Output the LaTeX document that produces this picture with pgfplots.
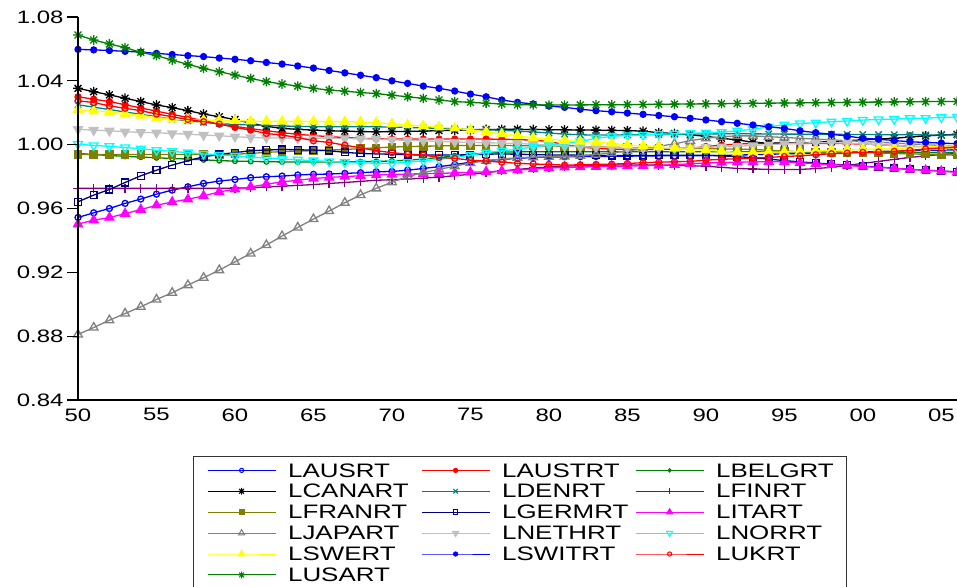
\documentclass[border=0pt]{standalone}
\usepackage{fontspec}
\setmainfont{Liberation Sans}[FakeStretch=1.33]
\usepackage{pgfplots}
\usepackage{pgfplotstable}
\pgfplotsset{compat=1.18}

\pgfdeclareplotmark{ast8}{%
  \pgfpathmoveto{\pgfqpoint{-\pgfplotmarksize}{0pt}}%
  \pgfpathlineto{\pgfqpoint{\pgfplotmarksize}{0pt}}%
  \pgfpathmoveto{\pgfqpoint{0pt}{-\pgfplotmarksize}}%
  \pgfpathlineto{\pgfqpoint{0pt}{\pgfplotmarksize}}%
  \pgfpathmoveto{\pgfqpoint{-0.707\pgfplotmarksize}{-0.707\pgfplotmarksize}}%
  \pgfpathlineto{\pgfqpoint{0.707\pgfplotmarksize}{0.707\pgfplotmarksize}}%
  \pgfpathmoveto{\pgfqpoint{-0.707\pgfplotmarksize}{0.707\pgfplotmarksize}}%
  \pgfpathlineto{\pgfqpoint{0.707\pgfplotmarksize}{-0.707\pgfplotmarksize}}%
  \pgfusepathqstroke}

\definecolor{eblue}{RGB}{0,0,255}
\definecolor{ered}{RGB}{255,0,0}
\definecolor{egreen}{RGB}{0,128,0}
\definecolor{eteal}{RGB}{0,128,128}
\definecolor{epurple}{RGB}{128,0,128}
\definecolor{eolive}{RGB}{128,128,0}
\definecolor{enavy}{RGB}{0,0,128}
\definecolor{emagenta}{RGB}{255,0,255}
\definecolor{egray}{RGB}{128,128,128}
\definecolor{esilver}{RGB}{192,192,192}
\definecolor{ecyan}{RGB}{0,255,255}
\definecolor{eyellow}{RGB}{255,255,0}

\pgfplotstableread{
year AUS AUST BELG CANA DEN FIN FRAN GERM ITA JAP NETH NOR SWE SWI UK USA
1950 0.9544 1.0300 0.9945 1.0353 1.0250 0.9726 0.9939 0.9642 0.9502 0.8811 1.0096 1.0004 1.0220 1.0597 1.0275 1.0687
1951 0.9573 1.0285 0.9938 1.0332 1.0235 0.9726 0.9939 0.9684 0.9527 0.8854 1.0091 0.9995 1.0210 1.0594 1.0264 1.0656
1952 0.9600 1.0270 0.9932 1.0312 1.0220 0.9726 0.9939 0.9719 0.9543 0.8900 1.0087 0.9990 1.0205 1.0590 1.0243 1.0631
1953 0.9632 1.0250 0.9927 1.0291 1.0205 0.9726 0.9939 0.9763 0.9568 0.8942 1.0081 0.9982 1.0195 1.0585 1.0228 1.0608
1954 0.9659 1.0230 0.9922 1.0270 1.0190 0.9726 0.9939 0.9805 0.9593 0.8984 1.0077 0.9975 1.0184 1.0580 1.0213 1.0579
1955 0.9690 1.0210 0.9918 1.0249 1.0175 0.9726 0.9939 0.9840 0.9620 0.9030 1.0075 0.9965 1.0170 1.0572 1.0192 1.0558
1956 0.9715 1.0190 0.9913 1.0232 1.0160 0.9726 0.9939 0.9872 0.9641 0.9072 1.0070 0.9958 1.0160 1.0565 1.0175 1.0530
1957 0.9736 1.0170 0.9910 1.0213 1.0150 0.9726 0.9939 0.9899 0.9658 0.9120 1.0066 0.9950 1.0157 1.0558 1.0158 1.0503
1958 0.9757 1.0150 0.9905 1.0192 1.0140 0.9726 0.9939 0.9924 0.9679 0.9166 1.0060 0.9942 1.0153 1.0552 1.0144 1.0478
1959 0.9772 1.0130 0.9900 1.0175 1.0132 0.9726 0.9939 0.9939 0.9704 0.9214 1.0056 0.9935 1.0153 1.0543 1.0129 1.0457
1960 0.9782 1.0115 0.9897 1.0158 1.0127 0.9728 0.9940 0.9950 0.9721 0.9266 1.0050 0.9930 1.0150 1.0535 1.0108 1.0436
1961 0.9793 1.0100 0.9895 1.0135 1.0123 0.9730 0.9945 0.9962 0.9735 0.9318 1.0045 0.9922 1.0148 1.0526 1.0091 1.0415
1962 0.9799 1.0088 0.9893 1.0115 1.0120 0.9735 0.9952 0.9966 0.9752 0.9371 1.0043 0.9916 1.0146 1.0515 1.0070 1.0395
1963 0.9803 1.0075 0.9892 1.0102 1.0117 0.9740 0.9956 0.9970 0.9767 0.9427 1.0041 0.9910 1.0146 1.0505 1.0060 1.0380
1964 0.9810 1.0065 0.9892 1.0096 1.0115 0.9745 0.9960 0.9968 0.9777 0.9481 1.0039 0.9905 1.0146 1.0493 1.0045 1.0367
1965 0.9814 1.0057 0.9892 1.0091 1.0113 0.9750 0.9962 0.9966 0.9788 0.9534 1.0039 0.9900 1.0146 1.0480 1.0024 1.0353
1966 0.9816 1.0050 0.9892 1.0087 1.0112 0.9757 0.9966 0.9962 0.9795 0.9584 1.0039 0.9895 1.0145 1.0465 1.0014 1.0342
1967 0.9820 1.0045 0.9892 1.0085 1.0112 0.9763 0.9970 0.9952 0.9800 0.9636 1.0039 0.9890 1.0144 1.0450 0.9997 1.0335
1968 0.9824 1.0040 0.9893 1.0082 1.0112 0.9770 0.9975 0.9945 0.9805 0.9685 1.0037 0.9887 1.0142 1.0435 0.9980 1.0327
1969 0.9830 1.0037 0.9895 1.0081 1.0112 0.9777 0.9980 0.9942 0.9810 0.9726 1.0035 0.9883 1.0138 1.0420 0.9962 1.0320
1970 0.9832 1.0035 0.9898 1.0082 1.0110 0.9780 0.9985 0.9940 0.9813 0.9765 1.0030 0.9883 1.0130 1.0400 0.9950 1.0310
1971 0.9840 1.0035 0.9903 1.0083 1.0108 0.9785 0.9988 0.9937 0.9816 0.9800 1.0027 0.9890 1.0124 1.0384 0.9940 1.0300
1972 0.9851 1.0035 0.9910 1.0085 1.0105 0.9790 0.9990 0.9935 0.9818 0.9825 1.0024 0.9899 1.0117 1.0367 0.9935 1.0290
1973 0.9862 1.0035 0.9920 1.0088 1.0102 0.9797 0.9992 0.9935 0.9820 0.9845 1.0020 0.9908 1.0110 1.0353 0.9920 1.0280
1974 0.9875 1.0035 0.9930 1.0090 1.0099 0.9805 0.9994 0.9935 0.9823 0.9865 1.0017 0.9918 1.0103 1.0336 0.9914 1.0270
1975 0.9890 1.0035 0.9940 1.0093 1.0096 0.9815 0.9995 0.9937 0.9827 0.9885 1.0014 0.9935 1.0093 1.0317 0.9903 1.0265
1976 0.9900 1.0035 0.9948 1.0095 1.0093 0.9825 0.9995 0.9940 0.9830 0.9900 1.0012 0.9949 1.0080 1.0300 0.9897 1.0260
1977 0.9908 1.0034 0.9953 1.0096 1.0090 0.9835 0.9995 0.9942 0.9835 0.9910 1.0010 0.9962 1.0068 1.0280 0.9890 1.0255
1978 0.9914 1.0032 0.9955 1.0096 1.0085 0.9845 0.9994 0.9940 0.9840 0.9918 1.0008 0.9970 1.0056 1.0265 0.9883 1.0250
1979 0.9920 1.0028 0.9956 1.0095 1.0080 0.9853 0.9993 0.9938 0.9847 0.9922 1.0002 0.9987 1.0042 1.0255 0.9879 1.0250
1980 0.9922 1.0020 0.9956 1.0094 1.0073 0.9860 0.9992 0.9936 0.9853 0.9924 0.9997 0.9997 1.0035 1.0242 0.9876 1.0248
1981 0.9924 1.0000 0.9956 1.0093 1.0066 0.9865 0.9990 0.9935 0.9858 0.9926 0.9991 1.0008 1.0026 1.0234 0.9872 1.0248
1982 0.9925 0.9985 0.9956 1.0092 1.0062 0.9868 0.9988 0.9934 0.9860 0.9930 0.9987 1.0020 1.0020 1.0222 0.9874 1.0249
1983 0.9926 0.9977 0.9956 1.0091 1.0060 0.9870 0.9986 0.9933 0.9862 0.9938 0.9985 1.0040 1.0015 1.0213 0.9876 1.0250
1984 0.9927 0.9972 0.9956 1.0090 1.0060 0.9872 0.9984 0.9932 0.9864 0.9948 0.9982 1.0052 1.0008 1.0206 0.9878 1.0250
1985 0.9928 0.9970 0.9956 1.0088 1.0062 0.9873 0.9982 0.9932 0.9866 0.9960 0.9980 1.0058 0.9998 1.0198 0.9882 1.0251
1986 0.9929 0.9970 0.9956 1.0085 1.0063 0.9873 0.9980 0.9932 0.9868 0.9975 0.9978 1.0060 0.9992 1.0190 0.9887 1.0252
1987 0.9930 0.9970 0.9956 1.0075 1.0064 0.9872 0.9980 0.9933 0.9870 0.9990 0.9977 1.0066 0.9987 1.0183 0.9890 1.0253
1988 0.9930 0.9972 0.9956 1.0070 1.0065 0.9870 0.9979 0.9934 0.9875 1.0005 0.9978 1.0068 0.9977 1.0175 0.9893 1.0254
1989 0.9930 0.9978 0.9956 1.0062 1.0066 0.9868 0.9978 0.9934 0.9880 1.0025 0.9980 1.0071 0.9970 1.0165 0.9895 1.0255
1990 0.9931 0.9988 0.9956 1.0052 1.0067 0.9865 0.9976 0.9933 0.9885 1.0040 0.9983 1.0075 0.9966 1.0155 0.9903 1.0256
1991 0.9933 0.9997 0.9956 1.0040 1.0068 0.9858 0.9974 0.9930 0.9888 1.0050 0.9987 1.0078 0.9958 1.0144 0.9908 1.0257
1992 0.9935 1.0004 0.9956 1.0030 1.0068 0.9851 0.9972 0.9925 0.9890 1.0055 0.9990 1.0087 0.9952 1.0134 0.9912 1.0258
1993 0.9937 1.0008 0.9956 1.0015 1.0068 0.9848 0.9970 0.9918 0.9892 1.0055 0.9995 1.0096 0.9950 1.0123 0.9916 1.0259
1994 0.9940 1.0008 0.9955 1.0010 1.0067 0.9845 0.9965 0.9910 0.9893 1.0050 1.0000 1.0112 0.9953 1.0112 0.9920 1.0260
1995 0.9942 1.0008 0.9955 1.0010 1.0066 0.9845 0.9960 0.9900 0.9892 1.0045 1.0005 1.0125 0.9955 1.0102 0.9926 1.0261
1996 0.9945 1.0008 0.9954 1.0010 1.0066 0.9845 0.9956 0.9892 0.9887 1.0040 1.0010 1.0133 0.9957 1.0087 0.9930 1.0262
1997 0.9947 1.0008 0.9954 1.0015 1.0065 0.9850 0.9954 0.9885 0.9880 1.0035 1.0012 1.0137 0.9960 1.0075 0.9937 1.0263
1998 0.9950 1.0008 0.9953 1.0020 1.0065 0.9858 0.9952 0.9878 0.9875 1.0030 1.0012 1.0144 0.9963 1.0065 0.9943 1.0264
1999 0.9952 1.0006 0.9953 1.0025 1.0064 0.9870 0.9951 0.9872 0.9870 1.0025 1.0010 1.0148 0.9966 1.0054 0.9947 1.0265
2000 0.9955 1.0004 0.9952 1.0030 1.0064 0.9883 0.9950 0.9865 0.9863 1.0020 1.0005 1.0154 0.9970 1.0040 0.9952 1.0266
2001 0.9957 1.0000 0.9952 1.0035 1.0063 0.9895 0.9948 0.9860 0.9858 1.0015 1.0000 1.0158 0.9973 1.0034 0.9954 1.0267
2002 0.9960 0.9995 0.9951 1.0040 1.0062 0.9908 0.9945 0.9852 0.9852 1.0010 0.9995 1.0160 0.9976 1.0026 0.9958 1.0268
2003 0.9962 0.9990 0.9951 1.0048 1.0062 0.9920 0.9942 0.9845 0.9845 1.0005 0.9990 1.0165 0.9980 1.0018 0.9964 1.0269
2004 0.9964 0.9986 0.9950 1.0055 1.0061 0.9930 0.9940 0.9840 0.9840 1.0000 0.9985 1.0166 0.9985 1.0014 0.9973 1.0270
2005 0.9966 0.9982 0.9950 1.0060 1.0060 0.9938 0.9936 0.9835 0.9834 0.9995 0.9980 1.0171 0.9990 1.0010 0.9979 1.0270
2006 0.9968 0.9980 0.9950 1.0065 1.0060 0.9945 0.9934 0.9830 0.9826 0.9990 0.9975 1.0173 0.9993 1.0006 0.9985 1.0271
}\data

\begin{document}
\begin{tikzpicture}
\begin{axis}[
  at={(0pt,0pt)}, anchor=south west,
  scale only axis, width=879pt, height=383pt,
  xmin=1950, xmax=2006, ymin=0.84, ymax=1.08,
  axis x line*=bottom, axis y line*=left,
  axis line style={black, line width=1.4pt, -},
  xtick={1950,1955,1960,1965,1970,1975,1980,1985,1990,1995,2000,2005},
  xticklabels={50,55,60,65,70,75,80,85,90,95,00,05},
  minor xtick={1950,1951,...,2006},
  xtick style={draw=none},
  xticklabel style={yshift=6pt},
  ytick={0.84,0.88,0.92,0.96,1.00,1.04,1.08},
  yticklabel style={/pgf/number format/fixed, /pgf/number format/fixed zerofill, /pgf/number format/precision=2},
  /pgf/number format/assume math mode=true,
  tick align=outside,
  major tick length=11pt, minor tick length=4.5pt,
  every major tick/.append style={black, line width=1.3pt},
  every minor tick/.append style={black, line width=1pt},
  ticklabel style={font=\fontsize{18}{20}\selectfont},
  clip mode=individual,
  axis on top,
  every axis plot/.append style={line width=1.3pt},
  legend columns=3, legend cell align=left,
  legend image code/.code={\draw[mark repeat=2,mark phase=2,#1] plot coordinates {(0pt,0pt) (34pt,0pt) (68pt,0pt)};},
  legend image post style={line width=1pt, every mark/.append style={scale=0.7}},
  legend style={at={(axis description cs:0,0)}, anchor=north west, xshift=114.7pt, yshift=-55.7pt,
    draw=black!80, line width=0.8pt, fill=white,
    inner xsep=14pt, inner ysep=3.85pt,
    font=\fontsize{19.5}{21}\selectfont,
    row sep=0pt,
    nodes={text height=13.3pt, text depth=0pt, inner xsep=0pt, inner ysep=3.8pt},
    /tikz/every odd column/.append style={column sep=12pt},
    /tikz/every even column/.append style={column sep=17pt}},
]
\addplot[color=eblue, mark=o, mark size=3pt, mark options={solid}] table[x=year,y=AUS]{\data};
\addlegendentry{\makebox[116pt][l]{LAUSRT}}
\addplot[color=ered, mark=*, mark size=3pt, mark options={solid}] table[x=year,y=AUST]{\data};
\addlegendentry{\makebox[116pt][l]{LAUSTRT}}
\addplot[color=egreen, mark=o, mark size=2.4pt, mark options={solid}] table[x=year,y=BELG]{\data};
\addlegendentry{\makebox[116pt][l]{LBELGRT}}
\addplot[color=black, mark=ast8, mark size=4.8pt, mark options={solid}] table[x=year,y=CANA]{\data};
\addlegendentry{\makebox[116pt][l]{LCANART}}
\addplot[color=eteal, mark=x, mark size=4.5pt, mark options={solid}] table[x=year,y=DEN]{\data};
\addlegendentry{\makebox[116pt][l]{LDENRT}}
\addplot[color=epurple, mark=+, mark size=4.5pt, mark options={solid}] table[x=year,y=FIN]{\data};
\addlegendentry{\makebox[116pt][l]{LFINRT}}
\addplot[color=eolive, mark=square*, mark size=3.6pt, mark options={solid}] table[x=year,y=FRAN]{\data};
\addlegendentry{\makebox[116pt][l]{LFRANRT}}
\addplot[color=enavy, mark=square, mark size=3.4pt, mark options={solid}] table[x=year,y=GERM]{\data};
\addlegendentry{\makebox[116pt][l]{LGERMRT}}
\addplot[color=emagenta, mark=triangle*, mark size=5pt, mark options={solid}] table[x=year,y=ITA]{\data};
\addlegendentry{\makebox[116pt][l]{LITART}}
\addplot[color=egray, mark=triangle, mark size=5pt, mark options={solid}] table[x=year,y=JAP]{\data};
\addlegendentry{\makebox[116pt][l]{LJAPART}}
\addplot[color=esilver, mark=triangle*, mark size=5pt, mark options={solid, rotate=180}] table[x=year,y=NETH]{\data};
\addlegendentry{\makebox[116pt][l]{LNETHRT}}
\addplot[color=ecyan, mark=triangle, mark size=5pt, mark options={solid, rotate=180}] table[x=year,y=NOR]{\data};
\addlegendentry{\makebox[116pt][l]{LNORRT}}
\addplot[color=eyellow, mark=triangle*, mark size=5.2pt, mark options={solid}] table[x=year,y=SWE]{\data};
\addlegendentry{\makebox[116pt][l]{LSWERT}}
\addplot[color=eblue, mark=*, mark size=3pt, mark options={solid}] table[x=year,y=SWI]{\data};
\addlegendentry{\makebox[116pt][l]{LSWITRT}}
\addplot[color=ered, mark=o, mark size=3pt, mark options={solid}] table[x=year,y=UK]{\data};
\addlegendentry{\makebox[116pt][l]{LUKRT}}
\addplot[color=egreen, mark=ast8, mark size=4.8pt, mark options={solid}] table[x=year,y=USA]{\data};
\addlegendentry{\makebox[116pt][l]{LUSART}}
\end{axis}
\pgfresetboundingbox
\path[use as bounding box] (-78pt,-186pt) rectangle (879pt,400pt);
\end{tikzpicture}
\end{document}
